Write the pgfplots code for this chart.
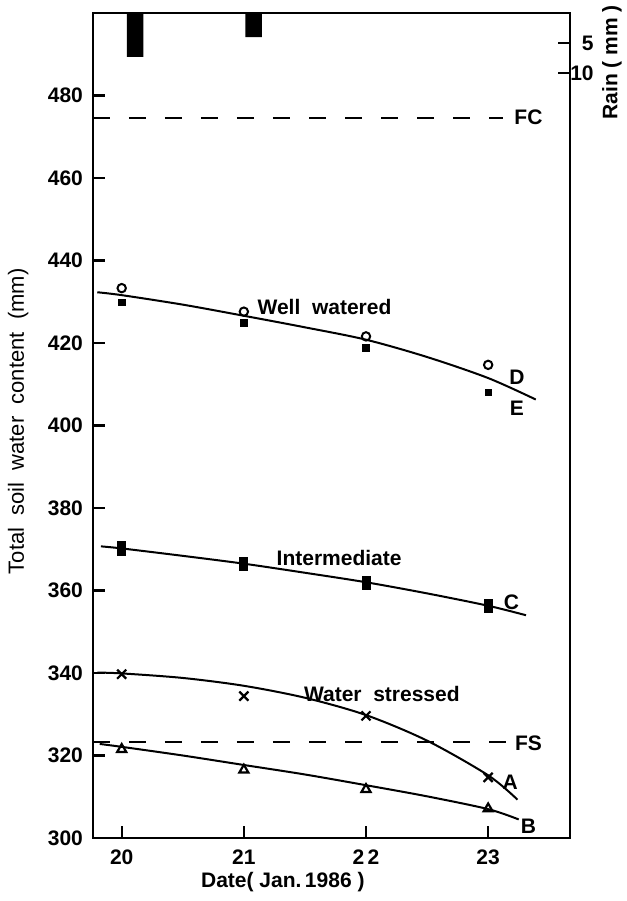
\documentclass[border=0pt]{standalone}
\usepackage{fontspec}
\setmainfont{Liberation Sans}
\usepackage{pgfplots}
\pgfplotsset{compat=1.18}
\begin{document}
\begin{tikzpicture}[x=1pt,y=1pt]
\useasboundingbox (0,0) rectangle (313.5,450.5);
% ---------------- main axis ----------------
\begin{axis}[
  at={(46.5pt,31.5pt)}, anchor=south west, scale only axis,
  width=238.5pt, height=412.5pt,
  xmin=19.765, xmax=23.67, ymin=300, ymax=500,
  xtick={20,21,22,23}, xticklabels={20,21,2\,2,23},
  ytick={300,320,...,480},
  xtick pos=left, ytick pos=left,
  tick align=inside, major tick length=6pt,
  tick style={line width=1.2pt, black},
  axis line style={line width=1.4pt},
  /pgf/number format/assume math mode=true,
  ticklabel style={font=\bfseries\fontsize{10.5}{12}\selectfont},
  yticklabel style={xshift=-1.5pt},
  xticklabel style={yshift=-2.5pt},
  xlabel={Date( Jan.\,1986 )},
  xlabel style={font=\bfseries\fontsize{10.5}{12}\selectfont, at={(axis description cs:0.398,-0.053)}, anchor=center},
  ylabel={Total\ \ soil\ \ water\ \ content\ \ (mm)},
  ylabel style={font=\fontsize{11}{13}\selectfont, at={(axis description cs:-0.157,0.505)}, anchor=center},
  clip=false,
]
% field capacity / stress lines
\addplot[dash pattern=on 8.5pt off 9.5pt, line width=1pt] coordinates {(19.765,474.6) (23.12,474.6)};
\addplot[dash pattern=on 8.5pt off 9.5pt, line width=1pt] coordinates {(19.765,323.3) (23.19,323.3)};
% fitted curves
\addplot[smooth, tension=0.5, line width=1pt] coordinates {(19.8,432.3) (20,431.6) (20.5,429.3) (21,426.6) (21.5,423.8) (22,420.8) (22.5,416.6) (23,411.5) (23.39,406.3)};
\addplot[smooth, tension=0.5, line width=1pt] coordinates {(19.83,370.7) (20,370.2) (20.5,368.4) (21,366.5) (21.5,364.3) (22,362.0) (22.5,359.3) (23,356.3) (23.31,354.0)};
\addplot[smooth, tension=0.5, line width=1pt] coordinates {(19.8,340.1) (20,339.9) (20.5,338.8) (21,336.9) (21.5,334.0) (22,329.8) (22.5,323.6) (23,315.2) (23.24,309.3)};
\addplot[smooth, tension=0.5, line width=1pt] coordinates {(19.82,322.8) (20,322.1) (20.5,320.0) (21,317.7) (21.5,315.4) (22,312.8) (22.5,310.1) (23,307.0) (23.25,304.5)};
% observations
\addplot[only marks, mark=o, mark size=2.1pt, line width=1pt] coordinates {(20,433.3) (21,427.6) (22,421.6) (23,414.7)};
\addplot[only marks, mark=square*, mark size=1.6pt] coordinates {(20,429.9) (21,424.9) (22,418.8) (23,408.0)};
\addplot[only marks, mark=square*, mark size=3.3pt, mark options={xscale=0.6}] coordinates {(20,370.2) (21,366.4) (22,361.8) (23,356.2)};
\addplot[only marks, mark=x, mark size=3.2pt, line width=1.1pt] coordinates {(20,339.7) (21,334.4) (22,329.6) (23,314.7)};
\addplot[only marks, mark=triangle, mark size=2.6pt, line width=1.1pt] coordinates {(20,321.5) (21,316.5) (22,311.8) (23,307.1)};
% labels
\begin{scope}[every node/.style={font=\bfseries\fontsize{10.5}{12}\selectfont}]
\node at (axis cs:21.66,428.8) {Well\ \ watered};
\node at (axis cs:21.78,368.0) {Intermediate};
\node at (axis cs:22.13,335.0) {Water\ \ stressed};
\node at (axis cs:23.235,411.8) {D};
\node at (axis cs:23.235,404.2) {E};
\node at (axis cs:23.19,357.2) {C};
\node at (axis cs:23.18,313.6) {A};
\node at (axis cs:23.33,302.9) {B};
\node at (axis cs:23.33,474.8) {FC};
\node at (axis cs:23.33,323.0) {FS};
\end{scope}
\node[rotate=90, font=\bfseries\fontsize{10.5}{12}\selectfont] at (axis description cs:1.088,0.94) {Rain ( mm )};
\end{axis}
% ---------------- rain axis ----------------
\begin{axis}[
  at={(46.5pt,31.5pt)}, anchor=south west, scale only axis,
  width=238.5pt, height=412.5pt,
  xmin=19.765, xmax=23.67, ymin=0, ymax=137.5,
  y dir=reverse,
  axis x line=none, axis y line*=right,
  ytick={5,10}, yticklabels={},
  tick align=inside, major tick length=6pt,
  tick style={line width=1.2pt, black},
  axis line style={line width=1.4pt},
  clip=false,
]
\addplot[ybar, bar width=8.25pt, fill=black, draw=none] coordinates {(20.11,7.3) (21.08,4.0)};
\node[font=\bfseries\fontsize{10.5}{12}\selectfont, anchor=east, inner sep=0pt] at (axis cs:23.867,5) {5};
\node[font=\bfseries\fontsize{10.5}{12}\selectfont, anchor=east, inner sep=0pt] at (axis cs:23.867,10) {10};
\end{axis}
\end{tikzpicture}
\end{document}
